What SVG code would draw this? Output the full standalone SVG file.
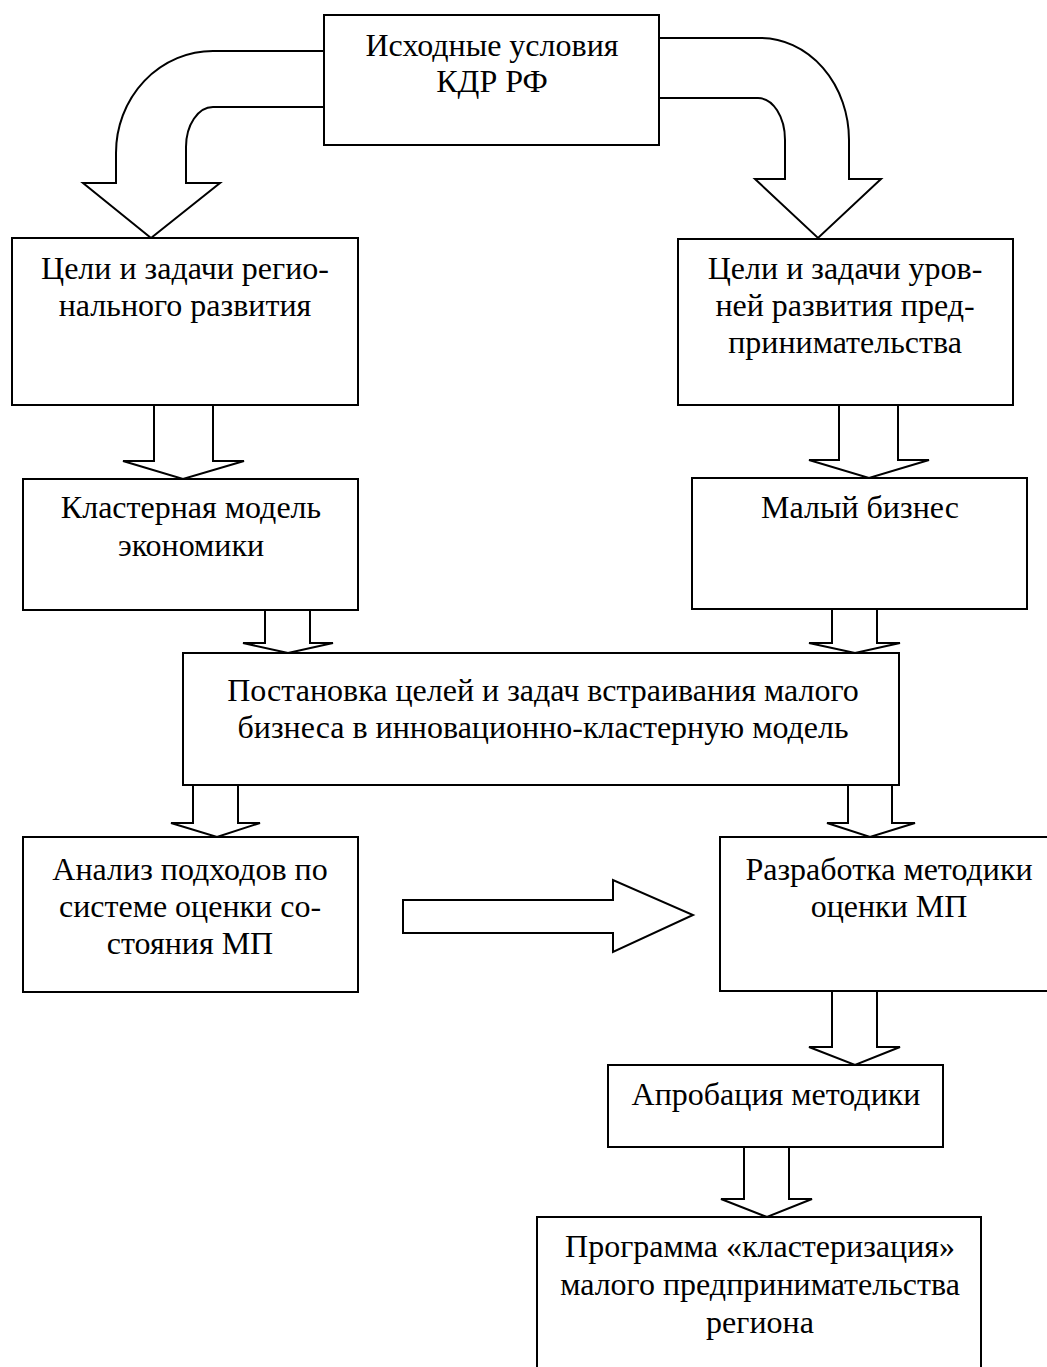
<svg xmlns="http://www.w3.org/2000/svg" width="1047" height="1367" viewBox="0 0 1047 1367">
<style>
.box{fill:#fff;stroke:#000;stroke-width:2}
.arr{fill:#fff;stroke:#000;stroke-width:2;stroke-linejoin:miter}
text{font-family:"Liberation Serif","Times New Roman",serif;font-size:32px;fill:#000;text-anchor:middle}
</style>
<rect width="1047" height="1367" fill="#fff"/>
<g id="connectors">
<path class="arr" d="M324,51 H213 A97,102 0 0 0 116,153 V183 H83 L151,238 L220,183 H186 V147 A27,40 0 0 1 213,107 H324"/>
<path class="arr" d="M659,38 H760 A89,102 0 0 1 849,140 V179 H881 L818,238 L755,179 H785 V140 A27,42 0 0 0 758,98 H659"/>
<path class="arr" d="M154,405 V461 H123 L183,479 L244,461 H213 V405"/>
<path class="arr" d="M839,405 V460 H809 L869,478 L929,460 H898 V405"/>
<path class="arr" d="M265,610 V643 H243 L288,653 L333,643 H310 V610"/>
<path class="arr" d="M832,609 V643 H809 L855,653 L900,643 H877 V609"/>
<path class="arr" d="M193,785 V823 H171 L217,837 L260,823 H238 V785"/>
<path class="arr" d="M848,785 V823 H827 L870,837 L915,823 H892 V785"/>
<path class="arr" d="M832,991 V1047 H809 L855,1065 L900,1047 H877 V991"/>
<path class="arr" d="M744,1147 V1199 H721 L767,1217 L812,1199 H789 V1147"/>
<path class="arr" d="M403,900 H613 V880 L693,915 L613,952 V933 H403 Z"/>
</g>
<g id="n-source">
<rect class="box" x="324" y="15" width="335" height="130"/>
<text x="492" y="56">Исходные условия</text>
<text x="492" y="92">КДР РФ</text>
</g>
<g id="n-regional">
<rect class="box" x="12" y="238" width="346" height="167"/>
<text x="185" y="279">Цели и задачи регио-</text>
<text x="185" y="316">нального развития</text>
</g>
<g id="n-levels">
<rect class="box" x="678" y="239" width="335" height="166"/>
<text x="845" y="279">Цели и задачи уров-</text>
<text x="845" y="316">ней развития пред-</text>
<text x="845" y="353">принимательства</text>
</g>
<g id="n-cluster">
<rect class="box" x="23" y="479" width="335" height="131"/>
<text x="191" y="518">Кластерная модель</text>
<text x="191" y="556">экономики</text>
</g>
<g id="n-small">
<rect class="box" x="692" y="478" width="335" height="131"/>
<text x="860" y="518">Малый бизнес</text>
</g>
<g id="n-goals">
<rect class="box" x="183" y="653" width="716" height="132"/>
<text x="543" y="701">Постановка целей и задач встраивания малого</text>
<text x="543" y="738">бизнеса в инновационно-кластерную модель</text>
</g>
<g id="n-analysis">
<rect class="box" x="23" y="837" width="335" height="155"/>
<text x="190" y="880">Анализ подходов по</text>
<text x="190" y="917">системе оценки со-</text>
<text x="190" y="954">стояния МП</text>
</g>
<g id="n-method">
<rect class="box" x="720" y="837" width="340" height="154"/>
<text x="889" y="880">Разработка методики</text>
<text x="889" y="917">оценки МП</text>
</g>
<g id="n-approbation">
<rect class="box" x="608" y="1065" width="335" height="82"/>
<text x="776" y="1105">Апробация методики</text>
</g>
<g id="n-program">
<rect class="box" x="537" y="1217" width="444" height="170"/>
<text x="760" y="1257">Программа «кластеризация»</text>
<text x="760" y="1295">малого предпринимательства</text>
<text x="760" y="1333">региона</text>
</g>
</svg>
